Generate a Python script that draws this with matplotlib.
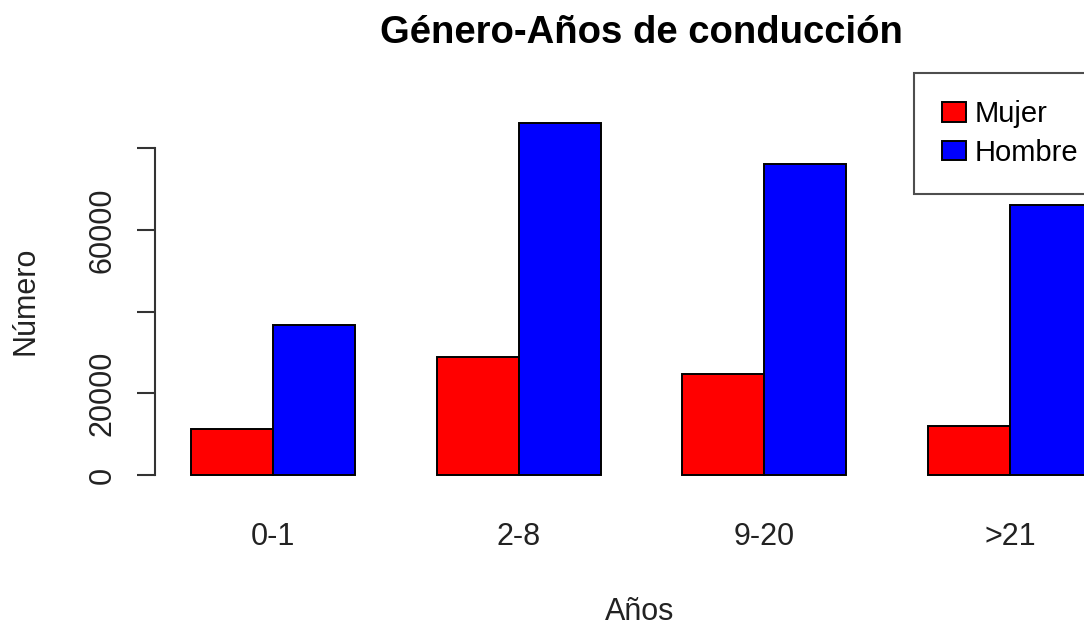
import matplotlib
matplotlib.use('Agg')
import numpy as np
import matplotlib.pyplot as plt
from matplotlib.patches import Patch

# data
categories = ['0-1', '2-8', '9-20', '>21']
mujer = [11200, 29000, 24700, 12100]
hombre = [36700, 86250, 76100, 66100]
series_names = ['Mujer', 'Hombre']
series_colors = ['#FF0000', '#0000FF']
y_ticks = [0, 20000, 40000, 60000, 80000]
y_tick_labels = ['0', '20000', '', '60000', '']

plt.rcParams['font.family'] = ['Liberation Sans', 'DejaVu Sans']

W, H = 1084, 627
fig = plt.figure(figsize=(W / 100, H / 100), dpi=100)

# plot region in pixels (R style, runs past the right edge)
left_px, right_px, top_px, bottom_px = 155, 1128, 108.7, 489.1
ax = fig.add_axes([left_px / W, 1 - bottom_px / H,
                   (right_px - left_px) / W, (bottom_px - top_px) / H])

# R barplot(beside=TRUE) layout: two bars per group, one bar gap
x_left = np.arange(len(categories)) * 3 + 1
ax.bar(x_left, mujer, width=1, align='edge', color=series_colors[0],
       edgecolor='black', linewidth=1.4)
ax.bar(x_left + 1, hombre, width=1, align='edge', color=series_colors[1],
       edgecolor='black', linewidth=1.4)

ymax = max(max(mujer), max(hombre))
ax.set_xlim(0.56, 12.44)
ax.set_ylim(-0.04 * ymax, 1.04 * ymax)

for s in ['top', 'right', 'bottom']:
    ax.spines[s].set_visible(False)
ax.spines['left'].set_bounds(0, 80000)
ax.spines['left'].set_linewidth(1.5)
ax.spines['left'].set_color('#333333')

ax.set_yticks(y_ticks)
ax.set_yticklabels(y_tick_labels, rotation=90, va='center', color='#222222')
ax.tick_params(axis='y', length=13, width=1.5, color='#333333', pad=14, labelsize=22)

ax.set_xticks(x_left + 1)
ax.set_xticklabels(categories)
ax.tick_params(axis='x', length=0, pad=24, labelsize=22, labelcolor='#222222')

ax.set_title('Género-Años de conducción', fontsize=27.5, fontweight='bold', pad=47)
fig.text(640 / W, 1 - 612 / H, 'Años', fontsize=22, ha='center', va='center', color='#222222')
fig.text(25 / W, 1 - 301 / H, 'Número', fontsize=22, ha='center', va='center',
         rotation=90, color='#222222')

handles = [Patch(facecolor=c, edgecolor='black', linewidth=1.4) for c in series_colors]
leg = fig.legend(handles, series_names, loc='upper left',
                 bbox_to_anchor=(914 / W, 1 - 72.7 / H), fontsize=21,
                 frameon=True, fancybox=False, edgecolor='#222222',
                 handlelength=0.82, handleheight=0.65, handletextpad=0.3,
                 labelspacing=0.35, borderpad=0.95, borderaxespad=0)
leg.get_frame().set_linewidth(1.5)

fig.savefig('out.png', dpi=100)
